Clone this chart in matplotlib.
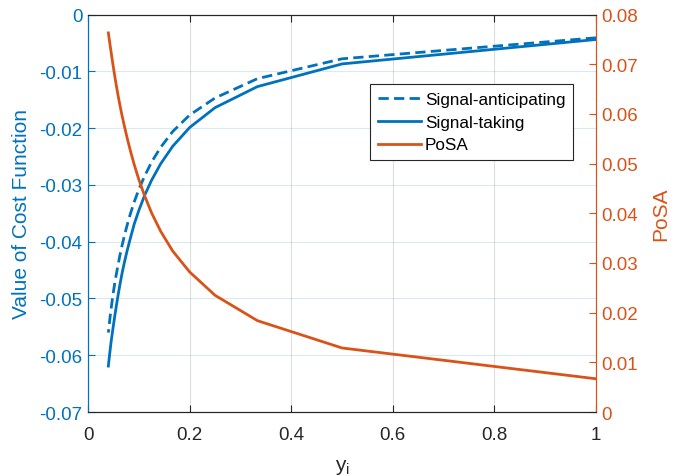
import matplotlib
matplotlib.use('Agg')
import matplotlib.pyplot as plt

# points sit at y_i = 1/k, k = 1..25
k_vals = list(range(1, 26))
y_i = [1.0 / k for k in k_vals]

signal_taking = [-0.0044, -0.0087, -0.0127, -0.0164, -0.0199, -0.0232, -0.0263,
                 -0.0292, -0.0319, -0.0345, -0.0369, -0.0394, -0.0416, -0.0437,
                 -0.0457, -0.0477, -0.0496, -0.0514, -0.0531, -0.0547, -0.0562,
                 -0.0576, -0.0591, -0.0605, -0.0619]
signal_anticipating = [-0.0041, -0.0078, -0.0113, -0.0147, -0.0177, -0.0206, -0.0234,
                       -0.0260, -0.0285, -0.0308, -0.0330, -0.0351, -0.0371, -0.0390,
                       -0.0408, -0.0425, -0.0442, -0.0458, -0.0473, -0.0488, -0.0503,
                       -0.0518, -0.0532, -0.0546, -0.0560]
posa = [0.0067, 0.0129, 0.0184, 0.0235, 0.0282, 0.0324, 0.0364, 0.0401, 0.0436,
        0.0468, 0.0498, 0.0526, 0.0552, 0.0576, 0.0598, 0.0619, 0.0639, 0.0658,
        0.0676, 0.0693, 0.0709, 0.0724, 0.0738, 0.0751, 0.0763]

blue = '#0072BD'
orange = '#D95319'
dark = '#262626'

plt.rcParams['font.family'] = ['Liberation Sans', 'DejaVu Sans']
plt.rcParams['mathtext.fontset'] = 'custom'
plt.rcParams['mathtext.rm'] = 'Liberation Sans'

fig = plt.figure(figsize=(6.84, 4.77), dpi=100)
ax = fig.add_axes([0.1287, 0.134, 0.7427, 0.8335])
ax2 = ax.twinx()

l1, = ax.plot(y_i, signal_anticipating, color=blue, lw=2, dashes=(3.7, 1.9),
              label='Signal-anticipating')
l2, = ax.plot(y_i, signal_taking, color=blue, lw=2, label='Signal-taking')
l3, = ax2.plot(y_i, posa, color=orange, lw=2, label='PoSA')

ax.set_xlim(0, 1)
ax.set_ylim(-0.07, 0)
ax2.set_ylim(0, 0.08)
ax.set_xticks([0, 0.2, 0.4, 0.6, 0.8, 1])
ax.set_xticklabels(['0', '0.2', '0.4', '0.6', '0.8', '1'])
ax.set_yticks([-0.07, -0.06, -0.05, -0.04, -0.03, -0.02, -0.01, 0])
ax.set_yticklabels(['-0.07', '-0.06', '-0.05', '-0.04', '-0.03', '-0.02', '-0.01', '0'])
ax2.set_yticks([0, 0.01, 0.02, 0.03, 0.04, 0.05, 0.06, 0.07, 0.08])
ax2.set_yticklabels(['0', '0.01', '0.02', '0.03', '0.04', '0.05', '0.06', '0.07', '0.08'])

# grid: vertical grey, horizontal tinted with the left axis colour
ax.xaxis.grid(True, color=dark, alpha=0.15, lw=0.8)
ax.yaxis.grid(True, color=blue, alpha=0.15, lw=0.8)
ax.set_axisbelow(True)

ax.tick_params(axis='x', direction='in', length=5, top=True, colors=dark,
               labelsize=13.5, pad=10)
ax.tick_params(axis='y', direction='in', length=5, colors=blue, labelsize=13.5, pad=4)
ax2.tick_params(axis='y', direction='in', length=5, colors=orange, labelsize=13.5, pad=4)

for a in (ax, ax2):
    a.spines['top'].set_color(dark)
    a.spines['bottom'].set_color(dark)
    a.spines['left'].set_color(blue)
    a.spines['right'].set_color(orange)
    for s in a.spines.values():
        s.set_linewidth(0.8)

ax.set_xlabel(r'$\mathregular{y_i}$', fontsize=15, color=dark, labelpad=10)
ax.set_ylabel('Value of Cost Function', fontsize=15, color=blue, labelpad=6)
ax2.set_ylabel('PoSA', fontsize=15, color=orange, labelpad=9)

leg = ax2.legend(handles=[l1, l2, l3], loc='upper right', bbox_to_anchor=(0.955, 0.825),
                 borderaxespad=0, fontsize=12.3, handlelength=2.5, handletextpad=0.26,
                 labelspacing=0.46, borderpad=0.45, fancybox=False, framealpha=1,
                 edgecolor=dark)
leg.get_frame().set_linewidth(0.8)

plt.savefig('out.png', dpi=100)
